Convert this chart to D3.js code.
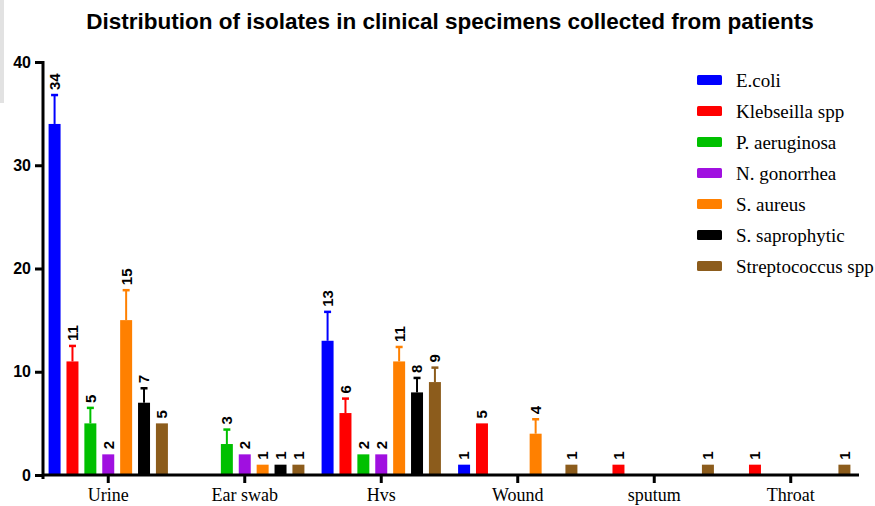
<!DOCTYPE html>
<html>
<head>
<meta charset="utf-8">
<script src="https://cdn.jsdelivr.net/npm/d3@7"></script>
<style>
  body { margin: 0; background: #fff; }
  svg { display: block; }
</style>
</head>
<body>
<div id="chart"></div>
<script>
// chart data
var categories = ["Urine", "Ear swab", "Hvs", "Wound", "sputum", "Throat"];
var species = ["E.coli", "Klebseilla spp", "P. aeruginosa", "N. gonorrhea", "S. aureus", "S. saprophytic", "Streptococcus spp"];
var colors = ["#0000ff", "#ff0000", "#00c000", "#a010e0", "#ff8000", "#000000", "#8c5c1c"];

var ecoli      = [34, 0, 13, 1, 0, 0];
var klebsiella = [11, 0, 6, 5, 1, 1];
var aeruginosa = [5, 3, 2, 0, 0, 0];
var gonorrhea  = [2, 2, 2, 0, 0, 0];
var aureus     = [15, 1, 11, 4, 0, 0];
var saprophyt  = [7, 1, 8, 0, 0, 0];
var strepto    = [5, 1, 9, 1, 1, 1];

// upper error bars
var ecoliErr      = [2.8, 0, 2.8, 0, 0, 0];
var klebsiellaErr = [1.5, 0, 1.4, 0, 0, 0];
var aeruginosaErr = [1.5, 1.4, 0, 0, 0, 0];
var gonorrheaErr  = [0, 0, 0, 0, 0, 0];
var aureusErr     = [2.9, 0, 1.4, 1.4, 0, 0];
var saprophytErr  = [1.4, 0, 1.4, 0, 0, 0];
var streptoErr    = [0, 0, 1.4, 0, 0, 0];

var yTicks = [0, 10, 20, 30, 40];

var seriesValues = [ecoli, klebsiella, aeruginosa, gonorrhea, aureus, saprophyt, strepto];
var seriesErrors = [ecoliErr, klebsiellaErr, aeruginosaErr, gonorrheaErr, aureusErr, saprophytErr, streptoErr];

var width = 875, height = 506;

var svg = d3.select("#chart").append("svg")
    .attr("width", width)
    .attr("height", height);

// little grey strip top-left
svg.append("rect")
    .attr("x", 0).attr("y", 0)
    .attr("width", 4).attr("height", 103)
    .attr("fill", "#e2e2e2");

// scales
var x0 = d3.scaleBand()
    .domain(categories)
    .range([40, 859]);

var x1 = d3.scaleBand()
    .domain(species)
    .range([0, x0.bandwidth()])
    .paddingInner(0.33)
    .paddingOuter(0.48);

var y = d3.scaleLinear()
    .domain([0, 40])
    .range([475, 62]);

// flatten into bars
var bars = [];
categories.forEach(function(c, ci) {
    species.forEach(function(s, si) {
        var v = seriesValues[si][ci];
        if (v > 0) {
            bars.push({cat: c, sp: s, value: v, err: seriesErrors[si][ci], color: colors[si]});
        }
    });
});

var g = svg.append("g");

// error bars (drawn behind bars)
var errs = bars.filter(function(d) { return d.err > 0; });
g.selectAll(".err")
    .data(errs)
    .enter().append("line")
    .attr("class", "err")
    .attr("x1", function(d) { return x0(d.cat) + x1(d.sp) + x1.bandwidth() / 2; })
    .attr("x2", function(d) { return x0(d.cat) + x1(d.sp) + x1.bandwidth() / 2; })
    .attr("y1", function(d) { return y(d.value); })
    .attr("y2", function(d) { return y(d.value + d.err); })
    .attr("stroke", function(d) { return d.color; })
    .attr("stroke-width", 2);

g.selectAll(".cap")
    .data(errs)
    .enter().append("line")
    .attr("class", "cap")
    .attr("x1", function(d) { return x0(d.cat) + x1(d.sp) + x1.bandwidth() / 2 - 3.5; })
    .attr("x2", function(d) { return x0(d.cat) + x1(d.sp) + x1.bandwidth() / 2 + 3.5; })
    .attr("y1", function(d) { return y(d.value + d.err); })
    .attr("y2", function(d) { return y(d.value + d.err); })
    .attr("stroke", function(d) { return d.color; })
    .attr("stroke-width", 2.5);

g.selectAll(".bar")
    .data(bars)
    .enter().append("rect")
    .attr("class", "bar")
    .attr("x", function(d) { return x0(d.cat) + x1(d.sp); })
    .attr("y", function(d) { return y(d.value); })
    .attr("width", x1.bandwidth())
    .attr("height", function(d) { return y(0) - y(d.value); })
    .attr("fill", function(d) { return d.color; });

// rotated value labels
g.selectAll(".lbl")
    .data(bars)
    .enter().append("text")
    .attr("class", "lbl")
    .attr("transform", function(d) {
        var cx = x0(d.cat) + x1(d.sp) + x1.bandwidth() / 2;
        var top = y(d.value + d.err) - 5;
        return "translate(" + cx + "," + top + ") rotate(-90)";
    })
    .attr("dy", "0.36em")
    .attr("font-family", "Liberation Sans, Arial, sans-serif")
    .attr("font-weight", "bold")
    .attr("font-size", 15)
    .attr("fill", "#000")
    .text(function(d) { return d.value; });

// axes
var yAxis = svg.append("g")
    .attr("transform", "translate(43,0)")
    .call(d3.axisLeft(y).tickValues(yTicks).tickSize(8).tickPadding(4));
yAxis.select(".domain").attr("stroke-width", 3).attr("d", "M0,61V479");
yAxis.selectAll(".tick line").attr("stroke-width", 3);
yAxis.selectAll(".tick text")
    .attr("font-family", "Liberation Sans, Arial, sans-serif")
    .attr("font-weight", "bold")
    .attr("font-size", 16)
    .attr("fill", "#000");

var xAxis = svg.append("g")
    .attr("transform", "translate(0,475)")
    .call(d3.axisBottom(x0).tickSize(8));
xAxis.select(".domain").attr("stroke-width", 3).attr("d", "M42,0H859");
xAxis.selectAll(".tick line").attr("stroke-width", 3);
xAxis.selectAll(".tick text")
    .attr("y", 26)
    .attr("dy", null)
    .attr("font-family", "Liberation Serif, Times New Roman, serif")
    .attr("font-size", 18)
    .attr("fill", "#000");

// title
svg.append("text")
    .attr("x", 450)
    .attr("y", 29)
    .attr("text-anchor", "middle")
    .attr("font-family", "Liberation Sans, Arial, sans-serif")
    .attr("font-weight", "bold")
    .attr("font-size", 22.5)
    .text("Distribution of isolates in clinical specimens collected from patients");

// legend
var legend = svg.append("g").attr("transform", "translate(697,80)");
var item = legend.selectAll(".item")
    .data(species)
    .enter().append("g")
    .attr("class", "item")
    .attr("transform", function(d, i) { return "translate(0," + (i * 31) + ")"; });

item.append("rect")
    .attr("x", 0).attr("y", -5)
    .attr("width", 25).attr("height", 10)
    .attr("rx", 1.5)
    .attr("fill", function(d, i) { return colors[i]; });

item.append("text")
    .attr("x", 39)
    .attr("dy", "0.35em")
    .attr("font-family", "Liberation Serif, Times New Roman, serif")
    .attr("font-size", 19)
    .text(function(d) { return d; });
</script>
</body>
</html>
